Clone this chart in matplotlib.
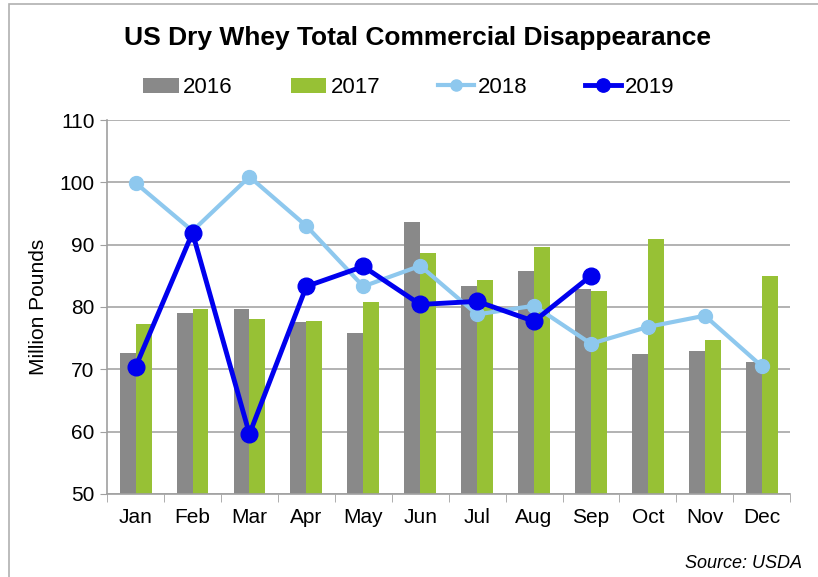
import matplotlib
matplotlib.use("Agg")
import matplotlib.pyplot as plt
import numpy as np
from matplotlib.patches import Rectangle

months = ["Jan", "Feb", "Mar", "Apr", "May", "Jun", "Jul", "Aug", "Sep", "Oct", "Nov", "Dec"]
y2016 = [72.6, 79.0, 79.7, 77.6, 75.8, 93.7, 83.3, 85.7, 82.9, 72.4, 73.0, 71.1]
y2017 = [77.3, 79.7, 78.0, 77.8, 80.8, 88.7, 84.4, 89.6, 82.5, 90.9, 74.7, 85.0]
y2018 = [99.9, 92.2, 100.9, 93.0, 83.3, 86.6, 78.8, 80.2, 74.1, 76.8, 78.6, 70.5]
y2019 = [70.4, 91.9, 59.6, 83.3, 86.5, 80.4, 80.9, 77.7, 85.0]

plt.rcParams["font.family"] = ["Liberation Sans", "DejaVu Sans"]

fig = plt.figure(figsize=(8.18, 5.77), dpi=100)
ax = fig.add_axes([0.131, 0.144, 0.835, 0.648])

x = np.arange(len(months))
w = 0.28
b1 = ax.bar(x - w / 2, y2016, w, color="#898989", label="2016", zorder=2)
b2 = ax.bar(x + w / 2, y2017, w, color="#97c135", label="2017", zorder=2)
l1, = ax.plot(x, y2018, color="#8ec8ee", lw=3, marker="o", ms=10, label="2018", zorder=3)
l2, = ax.plot(x[:len(y2019)], y2019, color="#0000ee", lw=3.5, marker="o", ms=12, label="2019", zorder=4)

ax.set_xlim(-0.5, 11.5)
ax.set_ylim(50, 110)
ax.set_yticks(range(50, 111, 10))
ax.set_xticks(x)
ax.set_xticklabels(months)
ax.set_xticks(np.arange(-0.5, 12, 1), minor=True)
ax.tick_params(axis="x", which="major", length=0, labelsize=15, pad=10)
ax.tick_params(axis="x", which="minor", length=6, color="#a0a0a0")
ax.tick_params(axis="y", length=5, color="#a0a0a0", labelsize=15, pad=4)
ax.grid(axis="y", color="#a6a6a6", lw=1.2, zorder=0)
for s in ["top", "right"]:
    ax.spines[s].set_visible(False)
for s in ["left", "bottom"]:
    ax.spines[s].set_color("#a0a0a0")
    ax.spines[s].set_linewidth(1.2)
ax.set_ylabel("Million Pounds", fontsize=15, labelpad=8)

fig.text(0.51, 0.935, "US Dry Whey Total Commercial Disappearance", ha="center", va="center",
         fontsize=19, fontweight="bold")
fig.legend([b1, b2, l1, l2], ["2016", "2017", "2018", "2019"],
           loc="center", bbox_to_anchor=(0.5, 0.848), ncol=4, frameon=False, fontsize=16,
           handlelength=1.6, columnspacing=2.6, handletextpad=0.2, markerscale=0.8)
fig.text(0.98, 0.024, "Source: USDA", ha="right", va="center", fontsize=13, style="italic")

fig.add_artist(Rectangle((0.011, -0.1), 1.2, 1.093, transform=fig.transFigure,
                         fill=False, edgecolor="#b0b0b0", lw=1.2))

fig.savefig("out.png", dpi=100)
